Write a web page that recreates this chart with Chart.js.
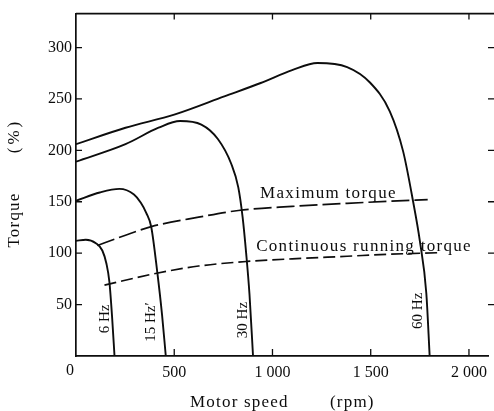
<!DOCTYPE html>
<html>
<head>
<meta charset="utf-8">
<script src="https://cdn.jsdelivr.net/npm/chart.js@4"></script>
<style>
  html,body{margin:0;padding:0;background:#fff;}
  #wrap{width:494px;height:411px;position:relative;}
</style>
</head>
<body>
<div id="wrap"><canvas id="c" width="494" height="411"></canvas></div>
<script>
// Torque curves per supply frequency (x = rpm, y = %)
const hz6X  = [0, 50, 101, 134, 155, 170, 184, 196];
const hz6Y  = [112, 113, 109.7, 102.6, 89.7, 72, 37, 0];
const hz15X = [0, 121, 221, 295, 330, 358, 383, 414, 438, 457];
const hz15Y = [151, 159, 162.5, 157, 149, 139, 125.5, 81, 40, 0];
const hz30X = [0, 252, 420, 530, 638, 722, 790, 826, 848, 866, 883, 901];
const hz30Y = [189, 206, 222, 228.5, 225, 211, 187, 164, 135, 100, 60, 0];
const hz60X = [0, 252, 504, 755, 940, 1100, 1229, 1380, 1496, 1597, 1665, 1715, 1750, 1783, 1800];
const hz60Y = [206, 222, 235, 252.5, 265.5, 278, 285, 281, 266, 238, 199, 151, 112, 61, 0];
// Limit lines
const maxTqX  = [109, 252, 383, 624, 826, 1100, 1380, 1600, 1790];
const maxTqY  = [107.5, 117.5, 125.8, 135, 141.5, 145.5, 148.5, 150.5, 152];
const contTqX = [145, 411, 624, 873, 1100, 1380, 1600, 1850];
const contTqY = [69, 80.5, 87.5, 92, 94.5, 97, 99, 100.5];

const xTicks = [500, 1000, 1500, 2000];
const yTicks = [50, 100, 150, 200, 250, 300];

// Text labels anchored in data units
const freqLabels = [
  {t:'6 Hz', x:146, y:36},
  {t:'15 Hz\u2032', x:383, y:33},
  {t:'30 Hz', x:851, y:35},
  {t:'60 Hz', x:1742, y:44}
];
const lineLabels = [
  {t:'Maximum torque', x:937, y:154},
  {t:'Continuous running torque', x:917, y:102.6}
];

const INK = '#0d0d0d';
const SERIF = '"Liberation Serif", "DejaVu Serif", serif';
const pts = (xs,ys)=> xs.map((x,i)=>({x, y:ys[i]}));

const curve = (xs,ys,dash)=>({
  data: pts(xs,ys), showLine:true, pointRadius:0, borderColor:INK,
  borderWidth: dash ? 1.7 : 1.9, borderDash: dash||[], cubicInterpolationMode:'monotone', fill:false
});

// frame, inward ticks, titles, annotations
const decor = {
  id:'decor',
  afterDraw(chart){
    const {ctx, chartArea:a, scales:{x, y}} = chart;
    ctx.save();
    ctx.strokeStyle = INK; ctx.lineWidth = 1.6;
    ctx.beginPath(); ctx.moveTo(a.left, a.top); ctx.lineTo(494, a.top); ctx.stroke();
    ctx.lineWidth = 1.3;
    ctx.beginPath();
    for(const v of xTicks){
      const px = x.getPixelForValue(v);
      ctx.moveTo(px, a.top); ctx.lineTo(px, a.top+6);
      ctx.moveTo(px, a.bottom); ctx.lineTo(px, a.bottom-7);
    }
    for(const v of yTicks){
      const py = y.getPixelForValue(v);
      ctx.moveTo(a.left, py); ctx.lineTo(a.left+6, py);
      ctx.moveTo(494, py); ctx.lineTo(488, py);
    }
    ctx.stroke();

    ctx.fillStyle = INK;
    ctx.font = '16px '+SERIF;
    ctx.textAlign = 'right'; ctx.textBaseline = 'top';
    ctx.fillText('0', a.left-2, a.bottom+7);

    // axis titles
    ctx.font = '17px '+SERIF;
    ctx.letterSpacing = '1.2px';
    ctx.textAlign = 'left'; ctx.textBaseline = 'alphabetic';
    ctx.fillText('Motor speed', 190, 407);
    ctx.fillText('(rpm)', 330, 407);
    ctx.save();
    ctx.translate(19, 220); ctx.rotate(-Math.PI/2);
    ctx.textAlign = 'center';
    ctx.fillText('Torque', 0, 0);
    ctx.restore();
    ctx.save();
    ctx.translate(19, 136); ctx.rotate(-Math.PI/2);
    ctx.textAlign = 'center';
    ctx.letterSpacing = '3px';
    ctx.fillText('(%)', 0, 0);
    ctx.restore();

    ctx.letterSpacing = '1.3px';
    ctx.textAlign = 'left';
    for(const l of lineLabels){
      ctx.fillText(l.t, x.getPixelForValue(l.x), y.getPixelForValue(l.y));
    }

    ctx.font = '15px '+SERIF;
    ctx.letterSpacing = '0px';
    ctx.textAlign = 'center'; ctx.textBaseline = 'middle';
    for(const l of freqLabels){
      ctx.save();
      ctx.translate(x.getPixelForValue(l.x), y.getPixelForValue(l.y));
      ctx.rotate(-Math.PI/2);
      ctx.fillText(l.t, 0, 0);
      ctx.restore();
    }
    ctx.restore();
  }
};

new Chart(document.getElementById('c').getContext('2d'), {
  type:'scatter',
  data:{ datasets:[
    curve(hz6X, hz6Y), curve(hz15X, hz15Y), curve(hz30X, hz30Y), curve(hz60X, hz60Y),
    curve(maxTqX, maxTqY, [18,5]), curve(contTqX, contTqY, [12,5])
  ]},
  options:{
    responsive:false, animation:false, devicePixelRatio:1,
    layout:{ padding:{ left:0, top:12, right:1, bottom:0 } },
    plugins:{ legend:{display:false}, tooltip:{enabled:false} },
    scales:{
      x:{
        type:'linear', min:0, max:2100,
        afterBuildTicks: s=>{ s.ticks = xTicks.map(v=>({value:v})); },
        afterFit: s=>{ s.height = 55; },
        grid:{ display:false, drawTicks:false },
        border:{ display:true, color:INK, width:1.7 },
        ticks:{ color:INK, padding:7, maxRotation:0, autoSkip:false,
          font:{ family:SERIF, size:16 },
          callback: v=> v>=1000 ? Math.floor(v/1000)+' '+String(v%1000).padStart(3,'0') : String(v) }
      },
      y:{
        type:'linear', min:0, max:333,
        afterBuildTicks: s=>{ s.ticks = yTicks.map(v=>({value:v})); },
        afterFit: s=>{ s.width = 76; },
        grid:{ display:false, drawTicks:false },
        border:{ display:true, color:INK, width:1.7 },
        ticks:{ color:INK, padding:4, autoSkip:false, font:{ family:SERIF, size:16 } }
      }
    }
  },
  plugins:[decor]
});
</script>
</body>
</html>
